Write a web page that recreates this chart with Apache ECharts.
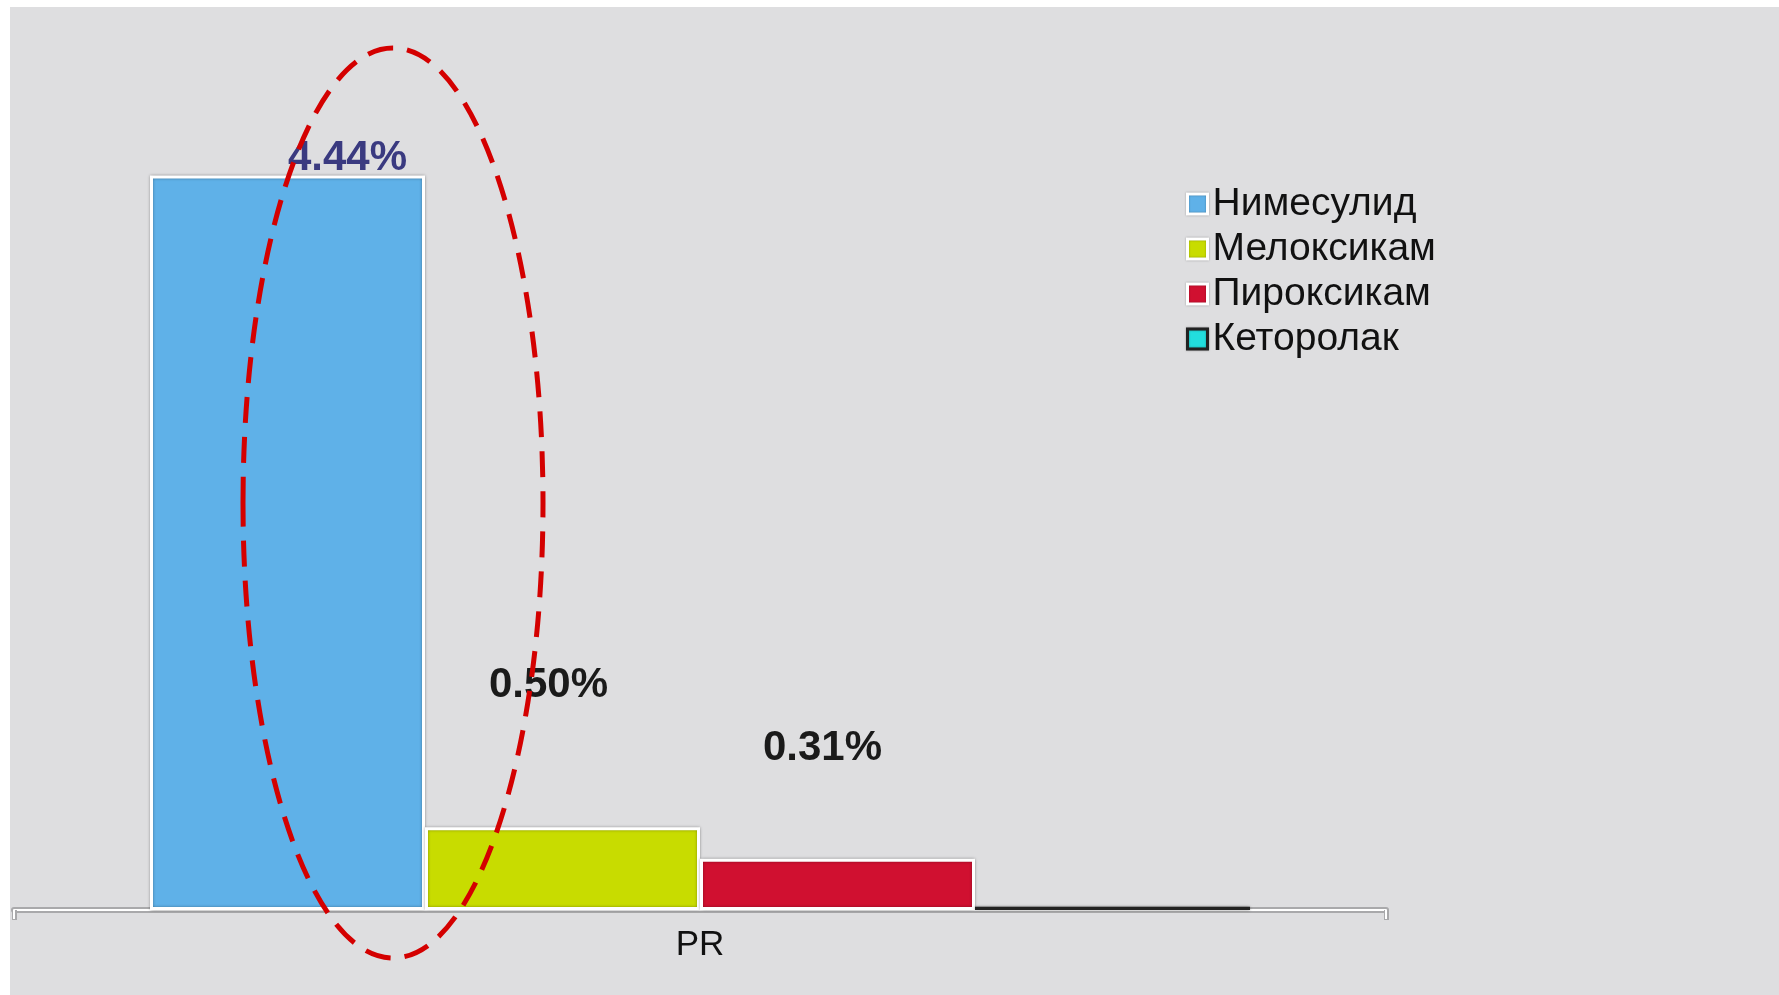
<!DOCTYPE html>
<html>
<head>
<meta charset="utf-8">
<script src="https://cdn.jsdelivr.net/npm/echarts@6/dist/echarts.min.js"></script>
<style>
  html, body { margin:0; padding:0; background:#fff; }
  #bg { position:absolute; left:10px; top:7px; right:0; bottom:0; background:#dedee0; }
  #chart { position:absolute; left:0; top:0; width:1779px; height:995px; }
</style>
</head>
<body>
<div id="bg"></div>
<div id="chart"></div>
<script>
var categories = ['PR'];
var seriesNames = ['Нимесулид', 'Мелоксикам', 'Пироксикам', 'Кеторолак'];
var seriesValues = [[4.44], [0.50], [0.31], [0.02]];

(function(){
  var colors = ['#5fb1e8', '#c8dc00', '#d01030', '#22dede'];
  var borders = ['#ffffff', '#ffffff', '#ffffff', '#222222'];
  var labelColors = ['#3a3a80', '#1a1a1a', '#1a1a1a', '#1a1a1a'];
  var labelOffsets = [[60, 9], [-14, -116], [-15, -84], [0, 0]];
  var font = 'Liberation Sans, Arial, sans-serif';
  var c = echarts.init(document.getElementById('chart'));

  var series = seriesNames.map(function(name, i){
    return {
      name: name, type: 'bar', data: seriesValues[i], xAxisIndex: 0,
      barWidth: 275, barGap: '0%', z: 3,
      itemStyle: {
        color: colors[i], borderColor: borders[i], borderWidth: i === 3 ? 2 : 3,
        shadowColor: 'rgba(0,0,0,0.35)', shadowBlur: 3
      },
      label: {
        show: i < 3, position: 'top', distance: 5, offset: labelOffsets[i],
        color: labelColors[i], fontFamily: font,
        fontWeight: 'bold', fontSize: 42,
        formatter: function(p){ return p.value.toFixed(2) + '%'; }
      }
    };
  });

  var axisBase = {
    type: 'category', data: categories, position: 'bottom'
  };

  c.setOption({
    animation: false,
    grid: { left: 14, right: 393, top: 83, bottom: 85 },
    legend: {
      orient: 'vertical', left: 1181, top: 179,
      itemWidth: 20, itemHeight: 20, itemGap: 5,
      icon: 'rect',
      data: seriesNames.map(function(n, i){
        return { name: n, itemStyle: { borderColor: i === 3 ? '#222' : '#fff', borderWidth: 3, shadowColor: 'rgba(0,0,0,0.35)', shadowBlur: 2 } };
      }),
      textStyle: { fontFamily: font, fontSize: 39, lineHeight: 40, color: '#111' }
    },
    xAxis: [
      Object.assign({}, axisBase, {
        axisLine: { lineStyle: { color: '#a9a9ab', width: 6 } },
        axisTick: { show: true, length: 10, lineStyle: { color: '#a9a9ab', width: 5 } },
        axisLabel: { margin: 18, fontFamily: font, fontSize: 35, color: '#111' }
      }),
      Object.assign({}, axisBase, {
        axisLine: { lineStyle: { color: '#ffffff', width: 2 } },
        axisTick: { show: true, length: 9, lineStyle: { color: '#ffffff', width: 2 } },
        axisLabel: { show: false }
      })
    ],
    yAxis: { type: 'value', min: 0, max: 5, show: false, splitLine: { show: false } },
    series: series,
    graphic: [{
      type: 'ellipse', z: 100,
      shape: { cx: 393, cy: 503, rx: 150, ry: 455 },
      style: { fill: 'none', stroke: '#d40000', lineWidth: 5, lineDash: [26, 14] }
    }]
  });
  window.addEventListener('resize', function(){ c.resize(); });
})();
</script>
</body>
</html>
